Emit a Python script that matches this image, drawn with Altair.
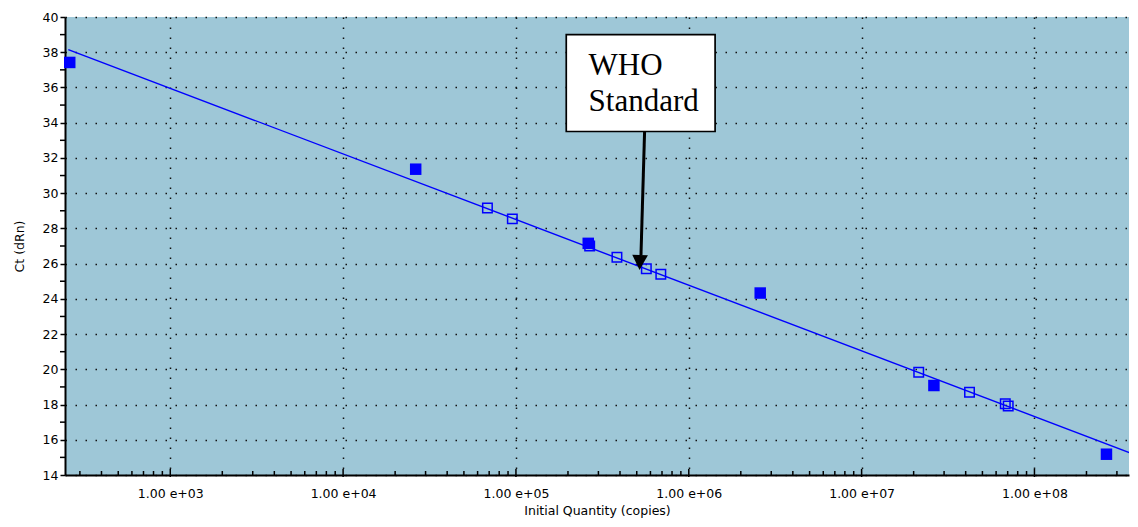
import altair as alt
import pandas as pd

# ---- data ----
filled_qty = [2.62e2, 2.63e4, 2.62e5, 2.59e6, 2.62e7, 2.61e8]
filled_ct = [37.42, 31.36, 27.15, 24.33, 19.08, 15.18]

open_qty = [6.84e4, 9.53e4, 2.67e5, 3.84e5, 5.68e5, 6.89e5, 2.14e7, 4.21e7, 6.78e7, 7.05e7]
open_ct = [29.16, 28.54, 27.00, 26.36, 25.71, 25.39, 19.83, 18.70, 18.05, 17.92]

fit_qty = [2.57e2, 3.77e8]
fit_ct = [38.15, 15.17]

major_x = [1e3, 1e4, 1e5, 1e6, 1e7, 1e8]
major_y = list(range(14, 41, 2))
minor_y = list(range(15, 40, 2))
minor_x = [m * 10 ** k for k in range(2, 9) for m in range(2, 10) if 246 <= m * 10 ** k <= 3.5e8]

# annotation (WHO Standard box + arrow)
box_qty = [1.955e5, 1.42e6]
box_ct = [39.0, 33.5]
label_lines = ["WHO", "Standard"]
label_qty = [2.63e5, 2.63e5]
label_ct = [36.72, 34.64]
shaft_qty = [5.55e5, 5.29e5]
shaft_ct = [33.5, 26.49]
tip_qty = [5.19e5]
tip_ct = [25.64]

BG = "#9EC7D7"
FONT = "DejaVu Sans"
BLUE = "#0000FF"

x_scale = alt.Scale(type="log", domain=[246, 3.524e8], nice=False, zero=False)
y_scale = alt.Scale(domain=[14, 40], nice=False, zero=False)

x_axis = alt.Axis(
    values=major_x,
    labelExpr="'1.00 e+' + format(round(log(datum.value) / LN10), '02d')",
    grid=True, gridDash=[1.5, 8.5], gridColor="#111111", gridWidth=1.5,
    ticks=False, domainColor="black", domainWidth=2,
    labelFont=FONT, labelFontSize=12.5, labelColor="black", labelPadding=12,
    title="Initial Quantity (copies)", titleFont=FONT, titleFontSize=12.5,
    titleFontWeight="normal", titleColor="black", titlePadding=5,
)
y_axis = alt.Axis(
    values=major_y,
    grid=True, gridDash=[1.5, 8.5], gridColor="#111111", gridWidth=1.5,
    ticks=True, tickSize=5, tickWidth=1.5, tickColor="black",
    domainColor="black", domainWidth=2,
    labelFont=FONT, labelFontSize=12.5, labelColor="black", labelPadding=2,
    title="Ct (dRn)", titleFont=FONT, titleFontSize=12.5,
    titleFontWeight="normal", titleColor="black", titlePadding=16,
)


def X(field="qty"):
    return alt.X(f"{field}:Q", scale=x_scale, axis=x_axis)


def Y(field="ct"):
    return alt.Y(f"{field}:Q", scale=y_scale, axis=y_axis)


filled_df = pd.DataFrame({"qty": filled_qty, "ct": filled_ct})
open_df = pd.DataFrame({"qty": open_qty, "ct": open_ct})
fit_df = pd.DataFrame({"qty": fit_qty, "ct": fit_ct})
miny_df = pd.DataFrame({"ct": minor_y})
majx_df = pd.DataFrame({"qty": major_x})
minx_df = pd.DataFrame({"qty": minor_x})
box_df = pd.DataFrame({"qty": [box_qty[0]], "qty2": [box_qty[1]], "ct": [box_ct[0]], "ct2": [box_ct[1]]})
text_df = pd.DataFrame({"qty": label_qty, "ct": label_ct, "t": label_lines})
shaft_df = pd.DataFrame({"qty": [shaft_qty[0]], "qty2": [shaft_qty[1]], "ct": [shaft_ct[0]], "ct2": [shaft_ct[1]]})
tip_df = pd.DataFrame({"qty": tip_qty, "ct": tip_ct})

filled = alt.Chart(filled_df).mark_point(
    shape="square", filled=True, color=BLUE, size=132, opacity=1, strokeWidth=0
).encode(x=X(), y=Y())

fit = alt.Chart(fit_df).mark_line(color=BLUE, strokeWidth=1.4, clip=True).encode(x=X(), y=Y())

opens = alt.Chart(open_df).mark_point(
    shape="square", filled=False, color=BLUE, size=90, strokeWidth=1.5, opacity=1
).encode(x=X(), y=Y())

y_minor = alt.Chart(miny_df).mark_rule(color="black", strokeWidth=1.5).encode(
    y=Y(), x=alt.value(-5), x2=alt.value(0)
)
x_major = alt.Chart(majx_df).mark_rule(color="black", strokeWidth=1.5).encode(
    x=X(), y=alt.value(452), y2=alt.value(460)
)
x_minor = alt.Chart(minx_df).mark_rule(color="black", strokeWidth=1.5).encode(
    x=X(), y=alt.value(454), y2=alt.value(459)
)

box = alt.Chart(box_df).mark_rect(fill="white", stroke="black", strokeWidth=1.7).encode(
    x=X(), x2="qty2:Q", y=Y(), y2="ct2:Q"
)
texts = alt.Chart(text_df).mark_text(
    font="Liberation Serif", fontSize=31, align="left", baseline="alphabetic", color="black"
).encode(x=X(), y=Y(), text="t:N")
shaft = alt.Chart(shaft_df).mark_rule(color="black", strokeWidth=3).encode(
    x=X(), x2="qty2:Q", y=Y(), y2="ct2:Q"
)
tip = alt.Chart(tip_df).mark_point(
    shape="M -1 -1.9 L 1 -1.9 L 0 0 Z", filled=True, color="black", size=246,
    angle=2, opacity=1, strokeWidth=0
).encode(x=X(), y=Y())

chart = alt.layer(
    filled, fit, opens, y_minor, x_major, x_minor, box, texts, shaft, tip
).properties(
    width=1064, height=458,
    autosize=alt.AutoSizeParams(type="none"),
    padding={"left": 57, "top": 9, "right": 1, "bottom": 43},
    background="white",
).configure_view(fill=BG, strokeWidth=0)

chart.save("out.html", embed_options={"renderer": "svg", "actions": False})
